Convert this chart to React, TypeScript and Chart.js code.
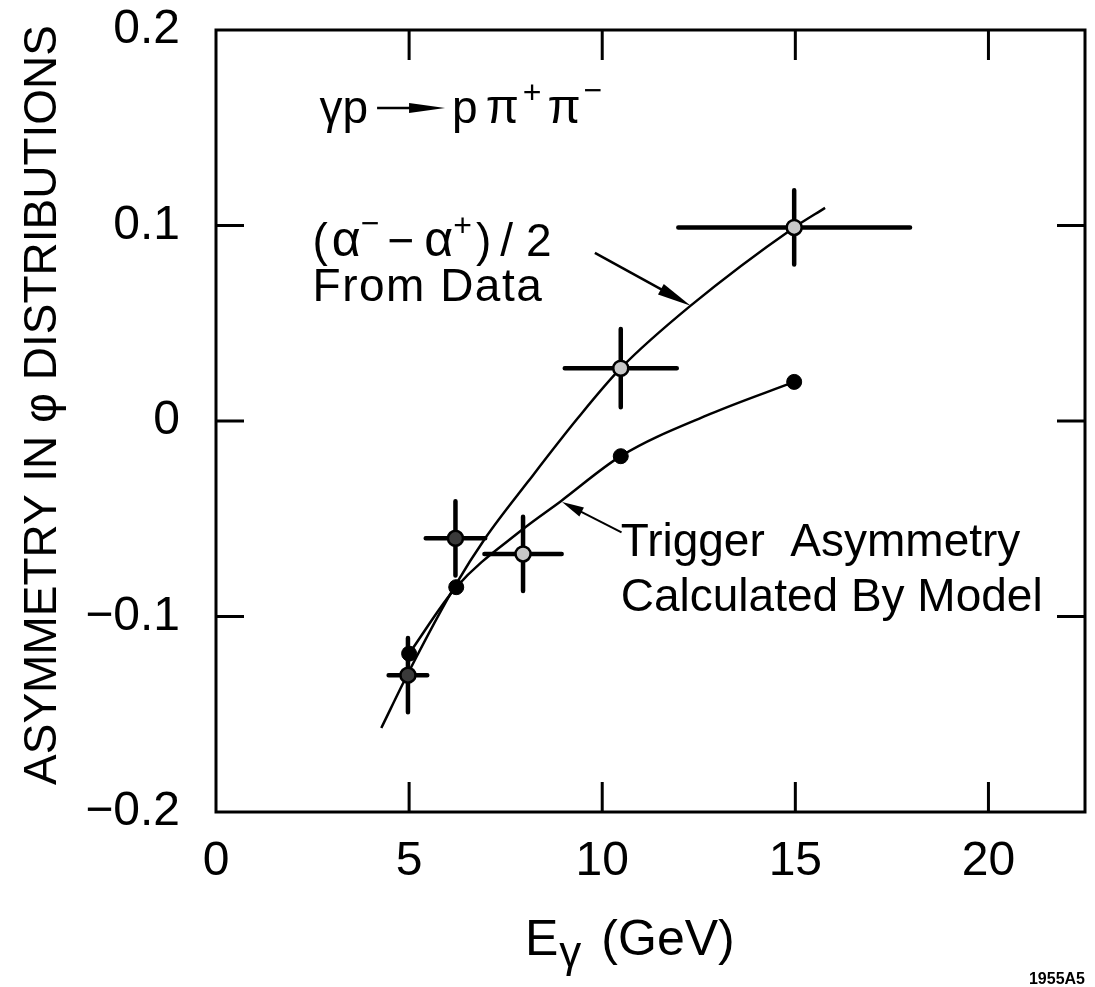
import React, { useEffect, useRef } from 'react';
import { Chart, registerables } from 'chart.js';

Chart.register(...registerables);

// ---- axis ticks ----
const xTickValues = [0, 5, 10, 15, 20];
const xTickLabels = ['0', '5', '10', '15', '20'];
const yTickValues = [-0.2, -0.1, 0, 0.1, 0.2];
const yTickLabels = ['−0.2', '−0.1', '0', '0.1', '0.2'];

// ---- measured points: (α⁻ − α⁺)/2 from data ----
const dataX = [4.97, 6.2, 7.95, 10.48, 14.97];
const dataY = [-0.13, -0.06, -0.068, 0.027, 0.099];
const dataXErr = [0.5, 0.77, 1.0, 1.45, 3.0];
const dataYErr = [0.019, 0.019, 0.019, 0.02, 0.019];
const dataPointFill = ['#3a3a3a', '#3a3a3a', '#c8c8c8', '#c8c8c8', '#c8c8c8'];

// ---- trigger asymmetry calculated by model ----
const modelX = [5.0, 6.22, 10.48, 14.97];
const modelY = [-0.119, -0.085, -0.018, 0.02];

// ---- hand-drawn curves ----
const fitCurveX = [4.28, 5.0, 6.2, 6.97, 8.08, 9.37, 10.48, 12.29, 14.97, 15.77];
const fitCurveY = [-0.157, -0.128, -0.084, -0.06, -0.031, 0.0015, 0.027, 0.059, 0.099, 0.109];
const modelCurveX = [5.0, 6.22, 7.9, 8.93, 10.48, 12.8, 14.97];
const modelCurveY = [-0.119, -0.085, -0.056, -0.041, -0.018, 0.0036, 0.02];

// ---- annotation anchors (data units) ----
const reactionAnchor = [2.68, 0.1524];
const fitLabelAnchor = [2.5, 0.0844];
const fitLabel2Anchor = [2.5, 0.0614];
const fitArrow = [9.81, 0.086, 12.29, 0.059];
const modelLabelAnchor = [10.48, -0.069];
const modelLabel2Anchor = [10.48, -0.0972];
const modelArrow = [10.5, -0.057, 8.96, -0.0414];

const FONT = '"Liberation Sans", Arial, "DejaVu Sans", sans-serif';

function pts(xs: number[], ys: number[]) {
  return xs.map((x, i) => ({ x, y: ys[i] }));
}

function arrow(ctx: CanvasRenderingContext2D, x1: number, y1: number, x2: number, y2: number, headLen: number, headHalf: number, lw: number) {
  const ang = Math.atan2(y2 - y1, x2 - x1);
  const bx = x2 - headLen * Math.cos(ang);
  const by = y2 - headLen * Math.sin(ang);
  ctx.lineWidth = lw;
  ctx.beginPath();
  ctx.moveTo(x1, y1);
  ctx.lineTo(bx + 2 * Math.cos(ang), by + 2 * Math.sin(ang));
  ctx.stroke();
  ctx.beginPath();
  ctx.moveTo(x2, y2);
  ctx.lineTo(bx + headHalf * Math.sin(ang), by - headHalf * Math.cos(ang));
  ctx.lineTo(bx - headHalf * Math.sin(ang), by + headHalf * Math.cos(ang));
  ctx.closePath();
  ctx.fill();
}

type Piece = { t: string; size: number; dy?: number; gap?: number };

function drawPieces(ctx: CanvasRenderingContext2D, x0: number, y0: number, pieces: Piece[]) {
  let x = x0;
  for (const p of pieces) {
    x += p.gap || 0;
    ctx.font = `${p.size}px ${FONT}`;
    ctx.fillText(p.t, x, y0 + (p.dy || 0));
    x += ctx.measureText(p.t).width;
  }
  return x;
}

const decorPlugin = {
  id: 'decor',
  beforeDatasetsDraw(chart: any) {
    const { ctx, scales } = chart;
    const xs = scales.x;
    const ys = scales.y;
    ctx.save();
    ctx.strokeStyle = '#000';
    ctx.lineWidth = 4.5;
    ctx.lineCap = 'round';
    dataX.forEach((vx, i) => {
      const px = xs.getPixelForValue(vx);
      const py = ys.getPixelForValue(dataY[i]);
      ctx.beginPath();
      ctx.moveTo(xs.getPixelForValue(vx - dataXErr[i]), py);
      ctx.lineTo(xs.getPixelForValue(vx + dataXErr[i]), py);
      ctx.moveTo(px, ys.getPixelForValue(dataY[i] - dataYErr[i]));
      ctx.lineTo(px, ys.getPixelForValue(dataY[i] + dataYErr[i]));
      ctx.stroke();
    });
    ctx.restore();
  },
  afterDraw(chart: any) {
    const { ctx, chartArea: a, scales } = chart;
    const xs = scales.x;
    const ys = scales.y;
    const P = (v: number[]) => [xs.getPixelForValue(v[0]), ys.getPixelForValue(v[1])];
    ctx.save();
    ctx.strokeStyle = '#000';
    ctx.fillStyle = '#000';
    ctx.lineCap = 'butt';

    // frame
    ctx.lineWidth = 3;
    ctx.strokeRect(a.left, a.top, a.right - a.left, a.bottom - a.top);

    // inward ticks on all four sides
    const TL = 30;
    ctx.lineWidth = 3;
    xTickValues.forEach((v) => {
      const px = xs.getPixelForValue(v);
      if (px <= a.left + 2 || px >= a.right - 2) return;
      ctx.beginPath();
      ctx.moveTo(px, a.bottom);
      ctx.lineTo(px, a.bottom - TL);
      ctx.moveTo(px, a.top);
      ctx.lineTo(px, a.top + TL);
      ctx.stroke();
    });
    yTickValues.forEach((v) => {
      const py = ys.getPixelForValue(v);
      if (py <= a.top + 2 || py >= a.bottom - 2) return;
      ctx.beginPath();
      ctx.moveTo(a.left, py);
      ctx.lineTo(a.left + 28, py);
      ctx.moveTo(a.right, py);
      ctx.lineTo(a.right - 28, py);
      ctx.stroke();
    });

    ctx.textAlign = 'left';
    ctx.textBaseline = 'alphabetic';

    // reaction label  γp → pπ+π−
    const [rx, ry] = P(reactionAnchor);
    let cx = drawPieces(ctx, rx, ry, [{ t: 'γp', size: 46 }]);
    arrow(ctx, cx + 9, ry - 15, cx + 77, ry - 15, 36, 5, 2.5);
    drawPieces(ctx, cx + 84, ry, [
      { t: 'p', size: 46 },
      { t: 'π', size: 48, gap: 8 },
      { t: '+', size: 32, dy: -20, gap: 4 },
      { t: 'π', size: 48, gap: 6 },
      { t: '−', size: 32, dy: -22, gap: 3 },
    ]);

    // data-curve label
    const [fx, fy] = P(fitLabelAnchor);
    drawPieces(ctx, fx, fy, [
      { t: '(', size: 46 },
      { t: 'α', size: 50, gap: 4 },
      { t: '−', size: 32, dy: -22 },
      { t: '−', size: 46, gap: 8 },
      { t: 'α', size: 50, gap: 10 },
      { t: '+', size: 32, dy: -20 },
      { t: ')', size: 46, gap: 4 },
      { t: '/', size: 46, gap: 9 },
      { t: '2', size: 46, gap: 13 },
    ]);
    const [fx2, fy2] = P(fitLabel2Anchor);
    ctx.font = `46px ${FONT}`;
    (ctx as any).letterSpacing = '1.5px';
    ctx.fillText('From Data', fx2, fy2);
    (ctx as any).letterSpacing = '0px';
    const fa1 = P([fitArrow[0], fitArrow[1]]);
    const fa2 = P([fitArrow[2], fitArrow[3]]);
    arrow(ctx, fa1[0], fa1[1], fa2[0], fa2[1], 34, 6, 2.5);

    // model-curve label
    const [mx, my] = P(modelLabelAnchor);
    ctx.font = `46px ${FONT}`;
    ctx.fillText('Trigger  Asymmetry', mx, my);
    const [mx2, my2] = P(modelLabel2Anchor);
    ctx.fillText('Calculated By Model', mx2, my2);
    const ma1 = P([modelArrow[0], modelArrow[1]]);
    const ma2 = P([modelArrow[2], modelArrow[3]]);
    arrow(ctx, ma1[0], ma1[1], ma2[0], ma2[1], 22, 5, 2);

    // y axis title
    ctx.save();
    ctx.translate(43, (a.top + a.bottom) / 2 - 16);
    ctx.rotate(-Math.PI / 2);
    ctx.textAlign = 'center';
    ctx.textBaseline = 'middle';
    ctx.font = `46px ${FONT}`;
    ctx.fillText('ASYMMETRY IN φ DISTRIBUTIONS', 0, 0);
    ctx.restore();

    // x axis title  E_γ (GeV)
    ctx.textAlign = 'left';
    ctx.textBaseline = 'alphabetic';
    drawPieces(ctx, a.left + 309, a.bottom + 143, [
      { t: 'E', size: 50 },
      { t: 'γ', size: 44, dy: 12, gap: 1 },
      { t: '(GeV)', size: 50, gap: 20 },
    ]);

    // figure id
    ctx.textAlign = 'right';
    ctx.font = `bold 16px "Liberation Sans Narrow", ${FONT}`;
    ctx.fillText('1955A5', a.right, chart.height - 3);

    ctx.restore();
  },
};

export default function App() {
  const ref = useRef<HTMLCanvasElement | null>(null);

  useEffect(() => {
    if (!ref.current) return;
    const chart = new Chart(ref.current, {
      type: 'scatter',
      data: {
        datasets: [
          {
            label: 'Trigger asymmetry (model)',
            data: pts(modelX, modelY),
            showLine: false,
            pointRadius: 7.5,
            pointBackgroundColor: '#000',
            pointBorderColor: '#000',
            pointBorderWidth: 1,
            order: 0,
          },
          {
            label: '(α⁻ − α⁺)/2 from data',
            data: pts(dataX, dataY),
            showLine: false,
            pointRadius: 7.5,
            pointBackgroundColor: dataPointFill,
            pointBorderColor: '#000',
            pointBorderWidth: 2.5,
            order: 1,
          },
          {
            label: 'data curve',
            data: pts(fitCurveX, fitCurveY),
            showLine: true,
            pointRadius: 0,
            borderColor: '#000',
            borderWidth: 2.5,
            cubicInterpolationMode: 'monotone',
            fill: false,
            order: 3,
          },
          {
            label: 'model curve',
            data: pts(modelCurveX, modelCurveY),
            showLine: true,
            pointRadius: 0,
            borderColor: '#000',
            borderWidth: 2.5,
            cubicInterpolationMode: 'monotone',
            fill: false,
            order: 3,
          },
        ],
      },
      options: {
        animation: false,
        responsive: false,
        events: [],
        layout: { padding: { left: 0, right: 6, top: 30, bottom: 0 } },
        plugins: {
          legend: { display: false },
          tooltip: { enabled: false },
        },
        scales: {
          x: {
            type: 'linear',
            min: 0,
            max: 22.5,
            grid: { display: false, drawTicks: false },
            border: { display: false },
            ticks: {
              stepSize: 5,
              includeBounds: false,
              padding: 21,
              color: '#000',
              font: { family: FONT, size: 48 },
              callback: (v: any) => {
                const i = xTickValues.findIndex((t) => Math.abs(t - Number(v)) < 1e-6);
                return i >= 0 ? xTickLabels[i] : '';
              },
            },
            afterFit: (s: any) => {
              s.height = 175;
              s.paddingLeft = 0;
              s.paddingRight = 0;
            },
          },
          y: {
            type: 'linear',
            min: -0.2,
            max: 0.2,
            grid: { display: false, drawTicks: false },
            border: { display: false },
            ticks: {
              stepSize: 0.1,
              includeBounds: false,
              padding: 36,
              color: '#000',
              font: { family: FONT, size: 48 },
              callback: (v: any) => {
                const i = yTickValues.findIndex((t) => Math.abs(t - Number(v)) < 1e-6);
                return i >= 0 ? yTickLabels[i] : '';
              },
            },
            afterFit: (s: any) => {
              s.width = 216;
              s.paddingTop = 0;
              s.paddingBottom = 0;
            },
          },
        },
      },
      plugins: [decorPlugin],
    });
    return () => chart.destroy();
  }, []);

  return (
    <div style={{ position: 'absolute', left: 0, top: 0, width: 1095, height: 987, background: '#fff' }}>
      <canvas ref={ref} width={1095} height={987} style={{ display: 'block' }} />
    </div>
  );
}
